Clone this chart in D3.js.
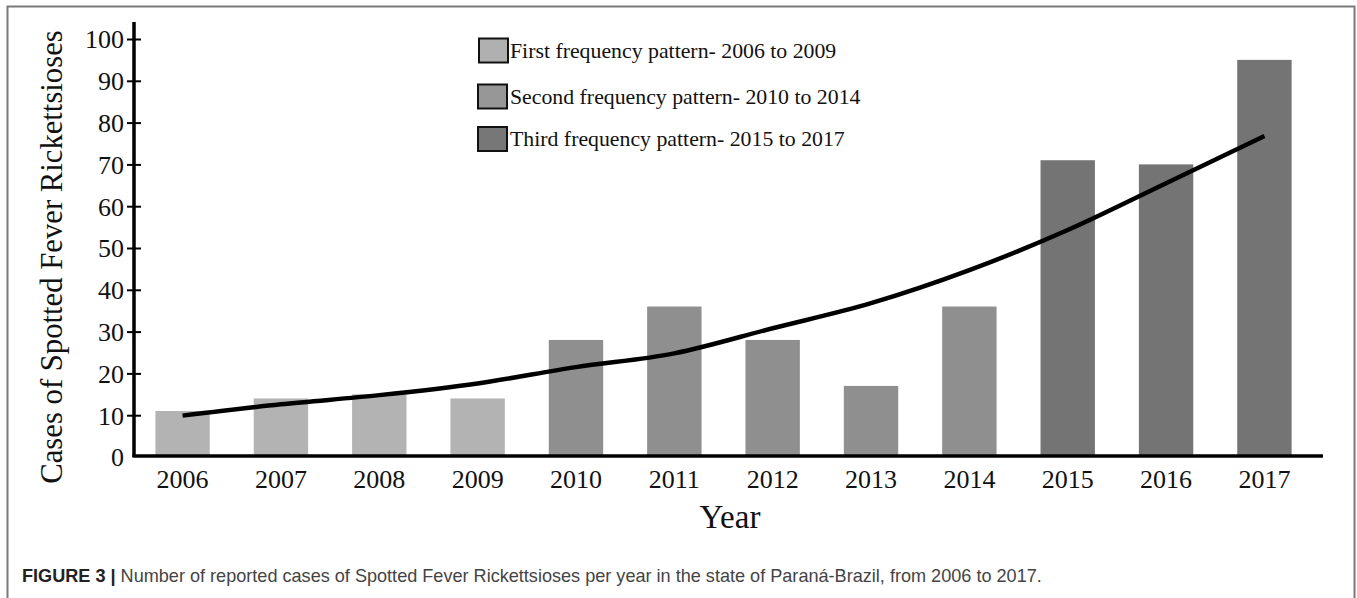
<!DOCTYPE html>
<html>
<head>
<meta charset="utf-8">
<script src="https://cdn.jsdelivr.net/npm/d3@7"></script>
<style>
  html, body { margin: 0; padding: 0; background: #fff; }
  svg { display: block; }
</style>
</head>
<body>
<script>
const years = ["2006","2007","2008","2009","2010","2011","2012","2013","2014","2015","2016","2017"];
const cases = [11, 14, 15, 14, 28, 36, 28, 17, 36, 71, 70, 95];
const pattern = [1, 1, 1, 1, 2, 2, 2, 2, 2, 3, 3, 3];
const trend = [9.9, 12.6, 14.8, 17.6, 21.5, 24.8, 30.8, 36.8, 44.7, 54.3, 65.5, 76.8];
const yTicks = [0, 10, 20, 30, 40, 50, 60, 70, 80, 90, 100];
const legendLabels = [
  "First frequency pattern- 2006 to 2009",
  "Second frequency pattern- 2010 to 2014",
  "Third frequency pattern- 2015 to 2017"
];
const patternColors = {1: "#b3b3b3", 2: "#8f8f8f", 3: "#747474"};
const legendColors = ["#b0b0b0", "#979797", "#777777"];

const W = 1357, H = 598;
const serif = "'Liberation Serif', 'Times New Roman', serif";
const sans = "'Liberation Sans', Arial, sans-serif";

const svg = d3.select("body").append("svg").attr("width", W).attr("height", H);

// frame
svg.append("path")
  .attr("d", `M7.5,${H} L7.5,6.5 L1354.5,6.5 L1354.5,${H}`)
  .attr("fill", "none").attr("stroke", "#7a7a7a").attr("stroke-width", 2);

const x = d3.scaleBand().domain(years).range([133.4, 1313.6]).paddingInner(0.447).paddingOuter(0.2235);
const y = d3.scaleLinear().domain([0, 100]).range([457, 39]);

// bars
svg.append("g").selectAll("rect").data(years).join("rect")
  .attr("x", d => x(d))
  .attr("width", x.bandwidth())
  .attr("y", (d, i) => y(cases[i]))
  .attr("height", (d, i) => y(0) - y(cases[i]))
  .attr("fill", (d, i) => patternColors[pattern[i]]);

// trend line
const line = d3.line()
  .x((d, i) => x(years[i]) + x.bandwidth() / 2)
  .y(d => y(d))
  .curve(d3.curveMonotoneX);
svg.append("path").datum(trend)
  .attr("d", line).attr("fill", "none").attr("stroke", "#000").attr("stroke-width", 4.5);

// y axis
const yAxis = d3.axisLeft(y).tickValues(yTicks).tickSizeInner(7).tickSizeOuter(0).tickPadding(3);
const gy = svg.append("g").attr("transform", "translate(134,0)").call(yAxis);
gy.select(".domain").remove();
gy.selectAll(".tick line").attr("x1", 7).attr("x2", -7).attr("stroke", "#000").attr("stroke-width", 2)
  .filter(d => d === 0).remove();
gy.selectAll(".tick text").attr("font-family", serif).attr("font-size", 26).attr("fill", "#111")
  .attr("x", -10).attr("dy", "0.34em");
svg.append("line").attr("x1", 134).attr("x2", 134).attr("y1", 22).attr("y2", 457)
  .attr("stroke", "#000").attr("stroke-width", 3.5);

// x axis
const xAxis = d3.axisBottom(x).tickSize(0).tickPadding(0);
const gx = svg.append("g").attr("transform", "translate(0,456)").call(xAxis);
gx.select(".domain").remove();
gx.selectAll(".tick text").attr("font-family", serif).attr("font-size", 26).attr("fill", "#111")
  .attr("dy", null).attr("y", 32);
svg.append("line").attr("x1", 132.5).attr("x2", 1323).attr("y1", 456).attr("y2", 456)
  .attr("stroke", "#000").attr("stroke-width", 3.5);

// axis titles
svg.append("text").attr("transform", "translate(62,257) rotate(-90)")
  .attr("text-anchor", "middle").attr("font-family", serif).attr("font-size", 30.7).attr("fill", "#111")
  .text("Cases of Spotted Fever Rickettsioses");
svg.append("text").attr("x", 730).attr("y", 528)
  .attr("text-anchor", "middle").attr("font-family", serif).attr("font-size", 33).attr("fill", "#111")
  .text("Year");

// legend
const legendY = [38.5, 84.5, 127];
const legendX = [479, 478, 478];
const leg = svg.append("g");
legendLabels.forEach((lab, i) => {
  leg.append("rect").attr("x", legendX[i]).attr("y", legendY[i]).attr("width", 29).attr("height", 24)
    .attr("fill", legendColors[i]).attr("stroke", "#111").attr("stroke-width", 2);
  leg.append("text").attr("x", 510).attr("y", legendY[i] + 19)
    .attr("font-family", serif).attr("font-size", 21.8).attr("fill", "#111").text(lab);
});

// caption
const cap = svg.append("text").attr("x", 22).attr("y", 582)
  .attr("font-family", sans).attr("font-size", 18.1).attr("fill", "#444");
cap.append("tspan").attr("font-weight", "bold").attr("fill", "#222").text("FIGURE 3 | ");
cap.append("tspan").text("Number of reported cases of Spotted Fever Rickettsioses per year in the state of Paraná-Brazil, from 2006 to 2017.");
</script>
</body>
</html>
